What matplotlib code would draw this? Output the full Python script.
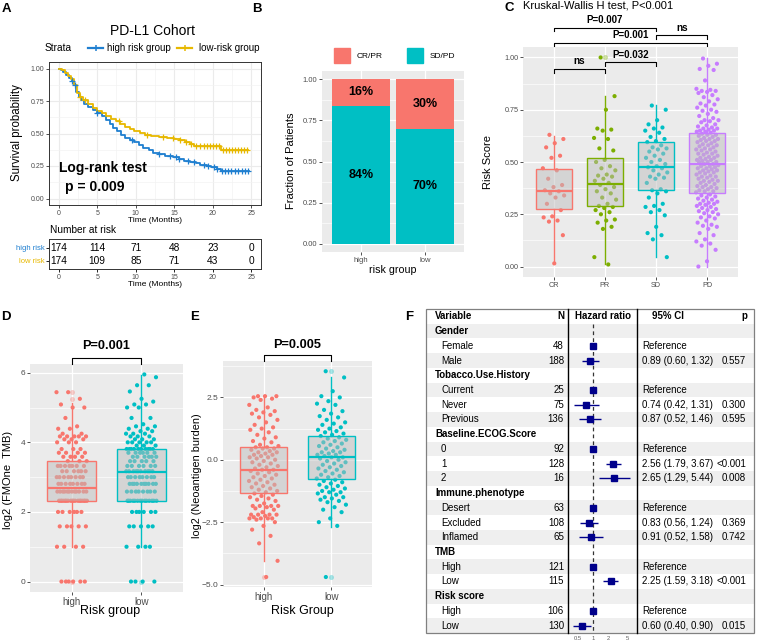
import numpy as np
import matplotlib
matplotlib.use("Agg")
import matplotlib.pyplot as plt
from matplotlib.patches import Rectangle
from matplotlib.lines import Line2D

plt.rcParams['font.family'] = ['Liberation Sans', 'DejaVu Sans']

# ====================== DATA ======================
# --- A: Kaplan-Meier ---
km_high_t = [0, 0.3, 0.6, 1.0, 1.3, 1.7, 2.0, 2.3, 2.6, 2.9, 3.3, 3.8, 4.4, 5.0, 5.6, 6.2, 6.7, 7.1,
             7.6, 8.1, 8.6, 9.2, 9.8, 10.4, 11.0, 11.7, 12.3, 13.0, 13.8, 14.8, 15.6, 16.3, 17.0,
             17.8, 18.4, 19.2, 19.8, 20.5, 21.0, 24.7]
km_high_s = [1.0, 0.99, 0.975, 0.95, 0.93, 0.905, 0.87, 0.82, 0.78, 0.755, 0.73, 0.705, 0.68, 0.66,
             0.635, 0.605, 0.575, 0.545, 0.52, 0.49, 0.465, 0.45, 0.435, 0.415, 0.39, 0.37, 0.35,
             0.34, 0.33, 0.318, 0.305, 0.292, 0.282, 0.275, 0.258, 0.25, 0.24, 0.228, 0.213, 0.213]
km_low_t = [0, 0.4, 0.8, 1.2, 1.6, 2.0, 2.4, 2.8, 3.2, 3.8, 4.4, 5.0, 5.6, 6.2, 6.8, 7.4, 8.0, 8.6,
            9.2, 9.8, 10.5, 11.2, 12.0, 13.0, 14.0, 15.0, 15.8, 16.4, 17.0, 17.5, 21.0, 24.5]
km_low_s = [1.0, 0.985, 0.965, 0.945, 0.92, 0.875, 0.815, 0.78, 0.755, 0.725, 0.70, 0.675, 0.655,
            0.635, 0.615, 0.595, 0.572, 0.55, 0.535, 0.52, 0.505, 0.49, 0.483, 0.475, 0.467, 0.46,
            0.452, 0.435, 0.418, 0.405, 0.372, 0.372]
cens_high = [1.7, 2.1, 5.0, 9.5, 13.0, 14.5, 15.2, 15.6, 16.8, 17.5, 18.9, 19.4, 20.1, 20.6, 21.2,
             21.6, 22.0, 22.4, 22.9, 23.3, 23.8, 24.2, 24.6]
cens_low = [2.8, 3.4, 7.8, 11.5, 13.5, 14.8, 15.8, 16.5, 17.2, 17.8, 18.3, 18.8, 19.2, 19.6, 20.0,
            20.4, 20.8, 21.3, 21.7, 22.1, 22.5, 22.9, 23.3, 23.7, 24.1, 24.4]
risk_times = [0, 5, 10, 15, 20, 25]
risk_high = [174, 114, 71, 48, 23, 0]
risk_low = [174, 109, 85, 71, 43, 0]

# --- B: stacked fractions ---
b_groups = ["high", "low"]
b_sdpd = [0.84, 0.70]
b_crpr = [0.16, 0.30]

# --- C: risk score by response ---
c_cats = ["CR", "PR", "SD", "PD"]
c_cr = [0.63, 0.61, 0.59, 0.57, 0.53, 0.52, 0.47, 0.46, 0.42, 0.39, 0.38, 0.365, 0.36, 0.35, 0.34,
        0.33, 0.30, 0.27, 0.24, 0.235, 0.22, 0.215, 0.15, 0.015]
c_pr = [1.00, 0.815, 0.75, 0.66, 0.655, 0.65, 0.615, 0.61, 0.565, 0.555, 0.51, 0.50, 0.48, 0.47,
        0.46, 0.44, 0.435, 0.43, 0.42, 0.41, 0.40, 0.39, 0.38, 0.37, 0.36, 0.35, 0.33, 0.32, 0.30,
        0.29, 0.285, 0.28, 0.27, 0.26, 0.25, 0.225, 0.22, 0.21, 0.19, 0.18, 0.045, 0.01]
c_sd = [0.77, 0.75, 0.70, 0.68, 0.665, 0.66, 0.65, 0.64, 0.62, 0.61, 0.60, 0.595, 0.58, 0.57, 0.565,
        0.56, 0.55, 0.54, 0.53, 0.52, 0.51, 0.50, 0.49, 0.48, 0.475, 0.47, 0.46, 0.45, 0.44, 0.43,
        0.425, 0.42, 0.40, 0.37, 0.365, 0.36, 0.35, 0.33, 0.30, 0.29, 0.285, 0.27, 0.26, 0.245,
        0.19, 0.16, 0.15, 0.13, 0.045]
c_pd = [0.995, 0.97, 0.96, 0.945, 0.94, 0.89, 0.85, 0.845, 0.84, 0.84, 0.835, 0.83, 0.82, 0.81, 0.80,
        0.79, 0.78, 0.775, 0.77, 0.76, 0.75, 0.745, 0.74, 0.73, 0.72, 0.71, 0.70, 0.70, 0.695, 0.69,
        0.68, 0.675, 0.67, 0.665, 0.66, 0.66, 0.655, 0.65, 0.65, 0.645, 0.645, 0.64,
        0.635, 0.63, 0.63, 0.625, 0.62, 0.615, 0.61, 0.61, 0.605, 0.60, 0.60, 0.595, 0.59, 0.585,
        0.58, 0.58, 0.575, 0.57, 0.565, 0.56, 0.56, 0.555, 0.55, 0.545, 0.54, 0.54, 0.535, 0.53,
        0.525, 0.52, 0.52, 0.515, 0.51, 0.51, 0.505, 0.50, 0.50, 0.50,
        0.49, 0.49, 0.485, 0.48, 0.48, 0.475, 0.47, 0.47, 0.465, 0.46, 0.46, 0.455, 0.45, 0.45,
        0.445, 0.44, 0.435, 0.43, 0.43, 0.425, 0.42, 0.415, 0.41, 0.41, 0.405, 0.40, 0.395, 0.39,
        0.385, 0.38, 0.38, 0.375, 0.37, 0.365, 0.36, 0.36, 0.355,
        0.345, 0.34, 0.335, 0.33, 0.325, 0.32, 0.315, 0.31, 0.305, 0.30, 0.30, 0.295, 0.29, 0.285,
        0.28, 0.275, 0.27, 0.265, 0.26, 0.255, 0.25, 0.24, 0.235, 0.23, 0.22, 0.21, 0.20, 0.195,
        0.19, 0.18, 0.16, 0.15, 0.13, 0.12, 0.11, 0.10, 0.08, 0.025, 0.0]
c_q1 = [0.273, 0.289, 0.365, 0.352]
c_med = [0.36, 0.397, 0.476, 0.492]
c_q3 = [0.468, 0.52, 0.598, 0.64]
c_wlo = [0.016, 0.01, 0.044, 0.0]
c_whi = [0.625, 0.817, 0.775, 0.998]
c_out = [[], [1.0], [], []]
c_tests = [("CR", "PR", "ns"), ("PR", "SD", "P=0.032"), ("CR", "SD", "P=0.007"),
           ("CR", "PD", "P=0.001"), ("SD", "PD", "ns")]

# --- D: TMB ---
d_groups = ["high", "low"]
d_high = np.repeat([0, 1.0, 1.585, 2.0, 2.322, 2.585, 2.807, 3.0, 3.17, 3.322, 3.459, 3.585, 3.70,
                    3.807, 4.0, 4.087, 4.17, 4.248, 4.39, 4.459, 4.70, 5.0, 5.087, 5.25, 5.44],
                   [6, 4, 5, 6, 18, 12, 8, 8, 6, 7, 3, 4, 4, 3, 3, 3, 5, 2, 2, 1, 1, 2, 1, 1, 2])
d_low = np.repeat([0, 1.0, 1.585, 2.0, 2.322, 2.585, 2.807, 3.0, 3.17, 3.322, 3.459, 3.585, 3.70,
                   3.807, 3.907, 4.0, 4.087, 4.17, 4.248, 4.32, 4.39, 4.459, 4.52, 4.70, 5.0, 5.087,
                   5.17, 5.25, 5.46, 5.64, 5.87, 5.95],
                  [4, 4, 5, 6, 14, 8, 10, 8, 10, 6, 5, 6, 6, 10, 3, 5, 3, 3, 3, 2, 2, 2, 1, 2, 2, 2,
                   1, 1, 1, 2, 1, 1])
d_q1 = [2.32, 2.32]
d_med = [2.70, 3.16]
d_q3 = [3.47, 3.80]
d_wlo = [1.0, 1.0]
d_whi = [5.13, 5.94]
d_out = [[5.44, 5.25, 0.0], [0.0]]
d_p = "P=0.001"

# --- E: neoantigen ---
e_groups = ["high", "low"]
e_high = [2.55, 2.55, 2.55, 2.5, 2.45, 2.4, 2.2, 2.1, 2.0, 1.95, 1.9, 1.85, 1.8, 1.7, 1.6, 1.5, 1.4,
          1.3, 1.25, 1.2, 1.1, 1.0, 0.9, 0.85, 0.75, 0.7, 0.6, 0.55, 0.5, 0.5, 0.45, 0.45, 0.4, 0.35,
          0.3, 0.3, 0.25, 0.2, 0.2, 0.15, 0.1, 0.1, 0.05, 0.0, -0.05, -0.1, -0.15, -0.2, -0.25, -0.3,
          -0.35, -0.4, -0.4, -0.45, -0.5, -0.55, -0.6, -0.65, -0.7, -0.75, -0.8, -0.85, -0.9, -0.95,
          -1.0, -1.05, -1.1, -1.15, -1.2, -1.25, -1.3, -1.35, -1.4, -1.45, -1.5, -1.55, -1.6, -1.65,
          -1.75, -1.85, -1.85, -1.85, -1.85, -1.9, -1.95, -2.0, -2.1, -2.2, -2.2, -2.2, -2.2, -2.25,
          -2.3, -2.35, -2.35, -2.35, -2.35, -2.4, -2.5, -2.65, -2.8, -3.05, -3.35, -4.05, -4.7]
e_low = [3.55, 3.3, 2.75, 2.55, 2.5, 2.35, 2.25, 2.2, 2.0, 1.95, 1.85, 1.75, 1.7, 1.6, 1.5, 1.45,
         1.4, 1.3, 1.25, 1.2, 1.15, 1.1, 1.05, 1.0, 0.95, 0.9, 0.85, 0.8, 0.75, 0.7, 0.65, 0.6, 0.55,
         0.5, 0.45, 0.4, 0.35, 0.3, 0.3, 0.25, 0.2, 0.2, 0.15, 0.1, 0.1, 0.05, 0.0, -0.05, -0.1,
         -0.15, -0.2, -0.25, -0.3, -0.35, -0.4, -0.45, -0.5, -0.55, -0.6, -0.65, -0.7, -0.75, -0.8,
         -0.85, -0.9, -0.95, -1.0, -1.05, -1.1, -1.15, -1.2, -1.25, -1.3, -1.3, -1.35, -1.4, -1.5,
         -1.5, -1.55, -1.6, -1.65, -1.7, -1.8, -1.9, -2.0, -2.1, -2.35, -2.5, -2.65, -4.7]
e_q1 = [-1.34, -0.79]
e_med = [-0.40, 0.13]
e_q3 = [0.50, 0.95]
e_wlo = [-4.06, -2.71]
e_whi = [2.55, 3.31]
e_out = [[-4.7], [3.55, -4.7]]
e_p = "P=0.005"

# --- F: forest plot ---
f_var = ["Gender", "Female", "Male", "Tobacco.Use.History", "Current", "Never", "Previous",
         "Baseline.ECOG.Score", "0", "1", "2", "Immune.phenotype", "Desert", "Excluded", "Inflamed",
         "TMB", "High", "Low", "Risk score", "High", "Low"]
f_is_group = [1, 0, 0, 1, 0, 0, 0, 1, 0, 0, 0, 1, 0, 0, 0, 1, 0, 0, 1, 0, 0]
f_n = ["", "48", "188", "", "25", "75", "136", "", "92", "128", "16", "", "63", "108", "65", "",
       "121", "115", "", "106", "130"]
nan = np.nan
f_hr = [nan, 1, 0.89, nan, 1, 0.74, 0.87, nan, 1, 2.56, 2.65, nan, 1, 0.83, 0.91, nan, 1, 2.25, nan, 1, 0.60]
f_lo = [nan, nan, 0.60, nan, nan, 0.42, 0.52, nan, nan, 1.79, 1.29, nan, nan, 0.56, 0.52, nan, nan, 1.59, nan, nan, 0.40]
f_hi = [nan, nan, 1.32, nan, nan, 1.31, 1.46, nan, nan, 3.67, 5.44, nan, nan, 1.24, 1.58, nan, nan, 3.18, nan, nan, 0.90]
f_p = ["", "", "0.557", "", "", "0.300", "0.595", "", "", "<0.001", "0.008", "", "", "0.369", "0.742",
       "", "", "<0.001", "", "", "0.015"]
f_ticks = [0.5, 1, 2, 5]

# ====================== LAYOUT HELPERS ======================
W, H = 758, 643
fig = plt.figure(figsize=(W / 100, H / 100), dpi=100)


def add_ax(x0, y0, x1, y1):
    return fig.add_axes([x0 / W, 1 - y1 / H, (x1 - x0) / W, (y1 - y0) / H])


def ftext(x, y, s, **kw):
    kw.setdefault('va', 'center')
    fig.text(x / W, 1 - y / H, s, **kw)


RED, GREEN, TEAL, PURPLE = "#F8766D", "#7CAE00", "#00BFC4", "#C77CFF"
BLUE, YELLOW = "#1F7FD0", "#E7B800"
TICKC = "#4D4D4D"


def gg_gray(ax, xlim, ylim, yticks, yticklabels, yminor, xticks, xticklabels, tsize=5.5, xtsize=None):
    ax.set_facecolor('#EBEBEB')
    for s in ax.spines.values():
        s.set_visible(False)
    ax.set_xlim(*xlim)
    ax.set_ylim(*ylim)
    ax.set_yticks(yticks)
    ax.set_yticklabels(yticklabels)
    ax.set_yticks(yminor, minor=True)
    ax.set_xticks(xticks)
    ax.set_xticklabels(xticklabels)
    ax.set_axisbelow(True)
    ax.grid(which='major', color='white', lw=0.9)
    ax.grid(which='minor', axis='y', color='white', lw=0.45)
    ax.tick_params(which='major', length=2.2, width=0.6, color='#333333', labelcolor=TICKC,
                   labelsize=tsize, pad=1.2)
    ax.tick_params(axis='x', labelsize=xtsize if xtsize else tsize)
    ax.tick_params(which='minor', length=0)


def jitter(n, w=0.22):
    return ((np.arange(n) * 0.6180339887 + 0.31) % 1.0 - 0.5) * 2 * w


def draw_box(ax, pos, q1, med, q3, wlo, whi, fl, color, width=0.7):
    stats = [dict(q1=q1, med=med, q3=q3, whislo=wlo, whishi=whi, fliers=fl)]
    ax.bxp(stats, positions=[pos], widths=width, patch_artist=True, showcaps=False,
           boxprops=dict(facecolor=(0.745, 0.745, 0.745, 0.5), edgecolor=color, linewidth=1.0),
           medianprops=dict(color=color, linewidth=1.6),
           whiskerprops=dict(color=color, linewidth=1.0),
           flierprops=dict(marker='o', markerfacecolor=color, markeredgecolor='none',
                           markersize=3.6, alpha=0.35),
           manage_ticks=False, zorder=3)


def bracket(ax, x1, x2, y, drop, label, fs):
    ax.plot([x1, x1, x2, x2], [y - drop, y, y, y - drop], color='black', lw=0.8, clip_on=False, zorder=5)
    return ax


# ====================== PANEL A ======================
ftext(2, 9, "A", fontsize=9.5, fontweight='bold')
ftext(152, 31, "PD-L1 Cohort", fontsize=10, ha='center')
ftext(45, 48, "Strata", fontsize=7.3)
fig.add_artist(Line2D([88 / W, 103 / W], [1 - 48 / H] * 2, color=BLUE, lw=1.6))
fig.add_artist(Line2D([95.5 / W], [1 - 48 / H], color=BLUE, marker='+', ms=5, mew=1.1))
ftext(107, 48, "high risk group", fontsize=7)
fig.add_artist(Line2D([177 / W, 192 / W], [1 - 48 / H] * 2, color=YELLOW, lw=1.6))
fig.add_artist(Line2D([184.5 / W], [1 - 48 / H], color=YELLOW, marker='+', ms=5, mew=1.1))
ftext(199, 48, "low-risk group", fontsize=7)

axA = add_ax(49, 62, 261, 205)
axA.set_xlim(-1.25, 26.25)
axA.set_ylim(-0.05, 1.05)
axA.set_xticks([0, 5, 10, 15, 20, 25])
axA.set_xticks([2.5, 7.5, 12.5, 17.5, 22.5], minor=True)
axA.set_yticks([0, 0.25, 0.5, 0.75, 1.0])
axA.set_yticklabels(["0.00", "0.25", "0.50", "0.75", "1.00"])
axA.set_yticks([0.125, 0.375, 0.625, 0.875], minor=True)
axA.grid(which='major', color='#EBEBEB', lw=0.8)
axA.grid(which='minor', color='#F2F2F2', lw=0.45)
axA.set_axisbelow(True)
for s in axA.spines.values():
    s.set_color('#333333')
    s.set_linewidth(0.7)
axA.tick_params(which='major', length=2.2, width=0.6, color='#333333', labelcolor=TICKC, labelsize=5, pad=1.2)
axA.tick_params(which='minor', length=0)

for t, s, cens, col in [(km_high_t, km_high_s, cens_high, BLUE), (km_low_t, km_low_s, cens_low, YELLOW)]:
    axA.step(t, s, where='post', color=col, lw=1.3, zorder=3)
    t_arr = np.array(t)
    s_arr = np.array(s)
    cs = [s_arr[np.searchsorted(t_arr, c, side='right') - 1] for c in cens]
    axA.plot(cens, cs, ls='none', marker='+', color=col, ms=4, mew=0.9, zorder=4)
ftext(59, 168, "Log-rank test", fontsize=10, fontweight='bold')
ftext(65, 187, "p = 0.009", fontsize=10, fontweight='bold')
ftext(17, 133, "Survival probability", fontsize=8.3, rotation=90, ha='center')
ftext(155, 221, "Time (Months)", fontsize=6, ha='center')
ftext(50, 230, "Number at risk", fontsize=7.3)

axR = add_ax(49, 239, 261, 269)
axR.set_xlim(-1.25, 26.25)
axR.set_ylim(0, 1)
for s in axR.spines.values():
    s.set_color('#333333')
    s.set_linewidth(0.7)
for x, a, b in zip(risk_times, risk_high, risk_low):
    axR.text(x, 0.7, str(a), fontsize=7.3, ha='center', va='center')
    axR.text(x, 0.27, str(b), fontsize=7.3, ha='center', va='center')
axR.set_xticks(risk_times)
axR.set_yticks([0.7, 0.27])
axR.set_yticklabels(["high risk", "low risk"])
for lab, col in zip(axR.get_yticklabels(), [BLUE, YELLOW]):
    lab.set_color(col)
axR.tick_params(axis='y', length=2.2, width=0.6, labelsize=5.5, pad=1.2)
axR.tick_params(axis='x', length=2.2, width=0.6, labelsize=5, labelcolor=TICKC, pad=1.2)
ftext(155, 285, "Time (Months)", fontsize=6, ha='center')

# ====================== PANEL B ======================
ftext(252, 9, "B", fontsize=9.5, fontweight='bold')
fig.add_artist(Rectangle((334 / W, 1 - 63 / H), 16 / W, 15 / H, color=RED, transform=fig.transFigure))
ftext(357, 56, "CR/PR", fontsize=6)
fig.add_artist(Rectangle((407 / W, 1 - 63 / H), 16 / W, 15 / H, color=TEAL, transform=fig.transFigure))
ftext(430, 56, "SD/PD", fontsize=6)

axB = add_ax(322, 71, 464, 252)
gg_gray(axB, (0.4, 2.6), (-0.05, 1.05), [0, 0.25, 0.5, 0.75, 1.0],
        ["0.00", "0.25", "0.50", "0.75", "1.00"], [0.125, 0.375, 0.625, 0.875],
        [1, 2], b_groups, tsize=5.5)
xb = np.arange(1, len(b_groups) + 1)
axB.bar(xb, b_sdpd, width=0.9, color=TEAL, zorder=2)
axB.bar(xb, b_crpr, width=0.9, bottom=b_sdpd, color=RED, zorder=2)
for x, a, b in zip(xb, b_sdpd, b_crpr):
    axB.text(x, a / 2, f"{a * 100:.0f}%", ha='center', va='center', fontsize=9, fontweight='bold', zorder=4)
    axB.text(x, a + b / 2, f"{b * 100:.0f}%", ha='center', va='center', fontsize=9, fontweight='bold', zorder=4)
ftext(291, 161, "Fraction of Patients", fontsize=8, rotation=90, ha='center')
ftext(393, 270, "risk group", fontsize=7.7, ha='center')

# ====================== PANEL C ======================
ftext(504, 8, "C", fontsize=9.5, fontweight='bold')
ftext(523, 6, "Kruskal-Wallis H test, P<0.001", fontsize=8)
axC = add_ax(523, 47, 738, 277)
gg_gray(axC, (0.4, 4.6), (-0.05, 1.05), [0, 0.25, 0.5, 0.75, 1.0],
        ["0.00", "0.25", "0.50", "0.75", "1.00"], [0.125, 0.375, 0.625, 0.875],
        [1, 2, 3, 4], c_cats, tsize=5.2)
c_vals = [c_cr, c_pr, c_sd, c_pd]
c_cols = [RED, GREEN, TEAL, PURPLE]
for i, (v, col) in enumerate(zip(c_vals, c_cols)):
    pos = i + 1
    axC.scatter(pos + jitter(len(v)), v, s=9, color=col, edgecolors='none', zorder=2)
    draw_box(axC, pos, c_q1[i], c_med[i], c_q3[i], c_wlo[i], c_whi[i], c_out[i], col)
c_y = [0.945, 0.976, 1.143, 1.071, 1.106]
for (g1, g2, lab), y in zip(c_tests, c_y):
    x1, x2 = c_cats.index(g1) + 1, c_cats.index(g2) + 1
    bracket(axC, x1, x2, y, 0.018, lab, 7)
    axC.text((x1 + x2) / 2, y + 0.012, lab, ha='center', va='bottom', fontsize=7 if lab != 'ns' else 7.2,
             fontweight='bold', clip_on=False)
ftext(488, 162, "Risk Score", fontsize=8, rotation=90, ha='center')

# ====================== PANEL D ======================
ftext(1, 317, "D", fontsize=9.5, fontweight='bold')
axD = add_ax(30, 364, 183, 592)
gg_gray(axD, (0.4, 2.6), (-0.3, 6.25), [0, 2, 4, 6], ["0", "2", "4", "6"], [1, 3, 5],
        [1, 2], d_groups, tsize=6, xtsize=7)
d_vals = [d_high, d_low]
for i, (v, col) in enumerate(zip(d_vals, [RED, TEAL])):
    pos = i + 1
    axD.scatter(pos + jitter(len(v)), v, s=9, color=col, edgecolors='none', zorder=2)
    draw_box(axD, pos, d_q1[i], d_med[i], d_q3[i], d_wlo[i], d_whi[i], d_out[i], col)
bracket(axD, 1, 2, 6.43, 0.18, d_p, 9)
axD.text(1.5, 6.6, d_p, ha='center', va='bottom', fontsize=9.2, fontweight='bold', clip_on=False)
ftext(8, 480, "log2 (FMOne  TMB)", fontsize=8, rotation=90, ha='center')
ftext(110, 611, "Risk group", fontsize=9, ha='center')

# ====================== PANEL E ======================
ftext(190, 317, "E", fontsize=9.5, fontweight='bold')
axE = add_ax(223, 361, 372, 587)
gg_gray(axE, (0.4, 2.6), (-5.1, 3.96), [-5, -2.5, 0, 2.5], ["\u22125.0", "\u22122.5", "0.0", "2.5"],
        [-3.75, -1.25, 1.25, 3.75], [1, 2], e_groups, tsize=6, xtsize=7)
e_vals = [e_high, e_low]
for i, (v, col) in enumerate(zip(e_vals, [RED, TEAL])):
    pos = i + 1
    axE.scatter(pos + jitter(len(v)), v, s=9, color=col, edgecolors='none', zorder=2)
    draw_box(axE, pos, e_q1[i], e_med[i], e_q3[i], e_wlo[i], e_whi[i], e_out[i], col)
bracket(axE, 1, 2, 4.2, 0.24, e_p, 9)
axE.text(1.5, 4.36, e_p, ha='center', va='bottom', fontsize=9.2, fontweight='bold', clip_on=False)
ftext(197, 476, "log2 (Neoantigen burden)", fontsize=7.8, rotation=90, ha='center')
ftext(302, 611, "Risk Group", fontsize=9, ha='center')

# ====================== PANEL F ======================
ftext(405, 317, "F", fontsize=9.5, fontweight='bold')
TX0, TX1 = 426, 754
axT = add_ax(TX0, 309, TX1, 633)
nrow = len(f_var) + 1
axT.set_xlim(TX0, TX1)
axT.set_ylim(nrow - 0.5, -0.5)
axT.axis('off')
for r in range(1, nrow, 2):
    axT.add_patch(Rectangle((TX0, r - 0.5), TX1 - TX0, 1, color='#EFEFEF', lw=0, zorder=0))
axT.add_patch(Rectangle((TX0, -0.5), TX1 - TX0, nrow, fill=False, ec='#808080', lw=0.9, zorder=3, clip_on=False))
for xv in (568, 637):
    axT.plot([xv, xv], [-0.5, nrow - 0.5], color='black', lw=1.0, zorder=3, clip_on=False)
fs = 7
axT.text(435, 0, "Variable", fontsize=fs, fontweight='bold', va='center')
axT.text(564, 0, "N", fontsize=fs, fontweight='bold', va='center', ha='right')
axT.text(603, 0, "Hazard ratio", fontsize=fs, fontweight='bold', va='center', ha='center')
axT.text(668, 0, "95% CI", fontsize=fs, fontweight='bold', va='center', ha='center')
axT.text(747, 0, "p", fontsize=fs, fontweight='bold', va='center', ha='right')
for i, name in enumerate(f_var):
    r = i + 1
    if f_is_group[i]:
        axT.text(435, r, name, fontsize=fs, fontweight='bold', va='center')
    else:
        axT.text(441, r, name, fontsize=fs, va='center')
        axT.text(564, r, f_n[i], fontsize=fs, va='center', ha='right')
        if np.isnan(f_lo[i]):
            ci = "Reference"
        else:
            ci = f"{f_hr[i]:.2f} ({f_lo[i]:.2f}, {f_hi[i]:.2f})"
        axT.text(642, r, ci, fontsize=fs, va='center')
        axT.text(746, r, f_p[i], fontsize=fs, va='center', ha='right')

axH = add_ax(568, 309, 637, 633)
axH.set_xscale('log')
axH.set_xlim(0.316, 7.6)
axH.set_ylim(nrow - 0.5, -0.5)
axH.patch.set_alpha(0)
for s in axH.spines.values():
    s.set_visible(False)
axH.set_yticks([])
axH.set_xticks(f_ticks)
axH.set_xticklabels([f"{t:g}" for t in f_ticks])
axH.xaxis.set_minor_locator(matplotlib.ticker.NullLocator())
axH.tick_params(axis='x', length=0, labelsize=4.2, labelcolor='#606060', pad=2)
axH.plot([1, 1], [0.5, nrow - 0.5], color='#333333', lw=0.9, ls=(0, (3, 2.5)), zorder=2)
rows = np.arange(1, nrow)
hr = np.array(f_hr)
lo = np.array(f_lo)
hi = np.array(f_hi)
ok = ~np.isnan(lo)
axH.hlines(rows[ok], lo[ok], hi[ok], color='#00008B', lw=1.0, zorder=3)
okp = ~np.isnan(hr)
axH.plot(hr[okp], rows[okp], ls='none', marker='s', color='#00008B', ms=5, zorder=4)

fig.savefig("out.png", dpi=100)
